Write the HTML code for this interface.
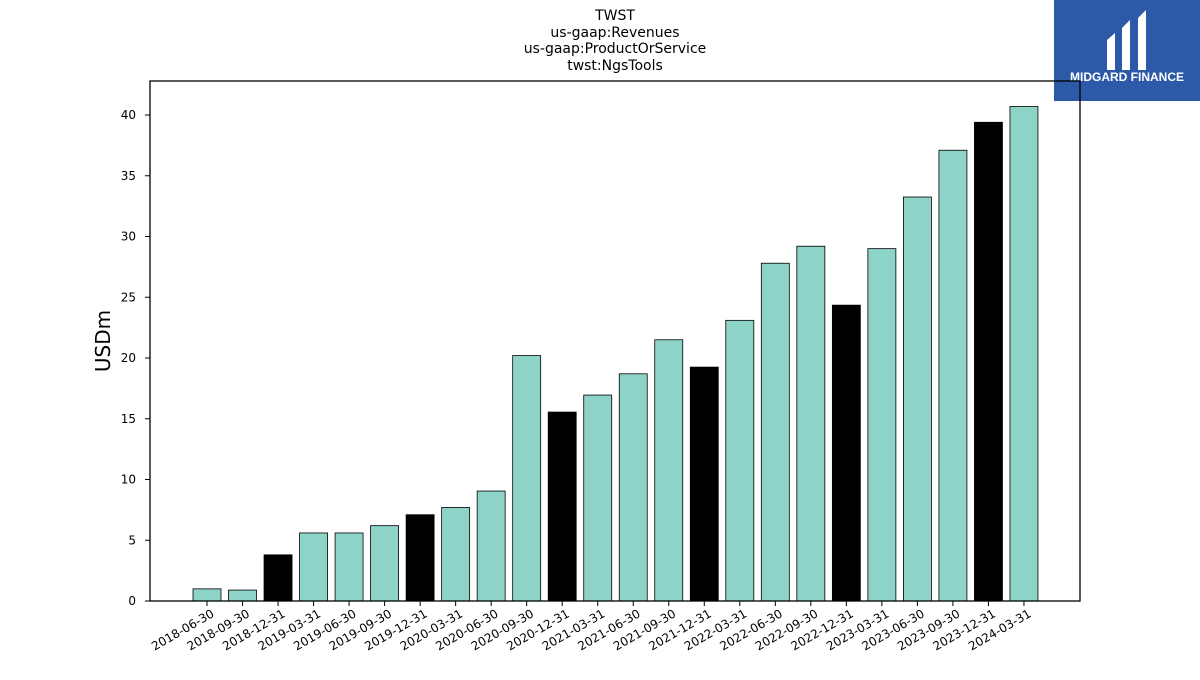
<!DOCTYPE html>
<html><head><meta charset="utf-8"><style>
body{margin:0;background:#fff;font-family:"Liberation Sans","DejaVu Sans",sans-serif}
</style></head><body>
<svg width="1200" height="675" xmlns="http://www.w3.org/2000/svg" style="font-family:'DejaVu Sans','Liberation Sans',sans-serif">
<g font-size="14" text-anchor="middle" fill="#000">
<text x="615" y="20">TWST</text>
<text x="615" y="37">us-gaap:Revenues</text>
<text x="615" y="53">us-gaap:ProductOrService</text>
<text x="615" y="70">twst:NgsTools</text>
</g>
<g>
<rect x="1054" y="0" width="146" height="101" fill="#2c5aa9"/>
<path d="M1107 40 L1115 33 L1115 70 L1107 70 Z M1122 28 L1130 20 L1130 70 L1122 70 Z M1138 18 L1146 10 L1146 70 L1138 70 Z" fill="#fff"/>
<text x="1127" y="81" font-size="12" font-weight="bold" fill="#fff" text-anchor="middle" font-family="Liberation Sans, sans-serif">MIDGARD FINANCE</text>
</g>
<text x="110" y="341" font-size="20" text-anchor="middle" transform="rotate(-90 110 341)">USDm</text>
<g id="bars"></g>
<g id="yticks"></g>
<g id="xticks"></g>
<rect x="150" y="81" width="930" height="520" fill="none" stroke="#000" stroke-width="1.3"/>
</svg>
<script>
const categories=["2018-06-30","2018-09-30","2018-12-31","2019-03-31","2019-06-30","2019-09-30","2019-12-31","2020-03-31","2020-06-30","2020-09-30","2020-12-31","2021-03-31","2021-06-30","2021-09-30","2021-12-31","2022-03-31","2022-06-30","2022-09-30","2022-12-31","2023-03-31","2023-06-30","2023-09-30","2023-12-31","2024-03-31"];
const values=[1.0,0.9,3.8,5.6,5.6,6.2,7.1,7.7,9.05,20.2,15.55,16.95,18.7,21.5,19.25,23.1,27.8,29.2,24.35,29.0,33.25,37.1,39.4,40.7];
const yTicks=[0,5,10,15,20,25,30,35,40];
const NS="http://www.w3.org/2000/svg";
const y=v=>601-v*12.15;
const x=i=>207+i*35.52;
const bars=document.getElementById('bars'),yt=document.getElementById('yticks'),xt=document.getElementById('xticks');
categories.forEach((c,i)=>{
const r=document.createElementNS(NS,'rect');


r.setAttribute('x',x(i)-14);r.setAttribute('width',28);
r.setAttribute('y',y(values[i]));r.setAttribute('height',601-y(values[i]));
r.setAttribute('fill',c.endsWith('12-31')?'#000':'#8dd3c7');
r.setAttribute('stroke','#000');r.setAttribute('stroke-width','0.8');
bars.appendChild(r);
const t=document.createElementNS(NS,'line');


t.setAttribute('x1',x(i));t.setAttribute('x2',x(i));t.setAttribute('y1',601);t.setAttribute('y2',606);t.setAttribute('stroke','#000');
xt.appendChild(t);
const l=document.createElementNS(NS,'text');


l.setAttribute('font-size','12');l.setAttribute('text-anchor','end');
l.setAttribute('transform',`translate(${x(i)+8},${616}) rotate(-30)`);
l.textContent=c;xt.appendChild(l);
});
yTicks.forEach(v=>{
const t=document.createElementNS(NS,'line');


t.setAttribute('x1',145);t.setAttribute('x2',150);t.setAttribute('y1',y(v));t.setAttribute('y2',y(v));t.setAttribute('stroke','#000');
yt.appendChild(t);
const l=document.createElementNS(NS,'text');


l.setAttribute('font-size','12');l.setAttribute('text-anchor','end');
l.setAttribute('x',136);l.setAttribute('y',y(v)+4);
l.textContent=v;yt.appendChild(l);
});
</script>
</body></html>
